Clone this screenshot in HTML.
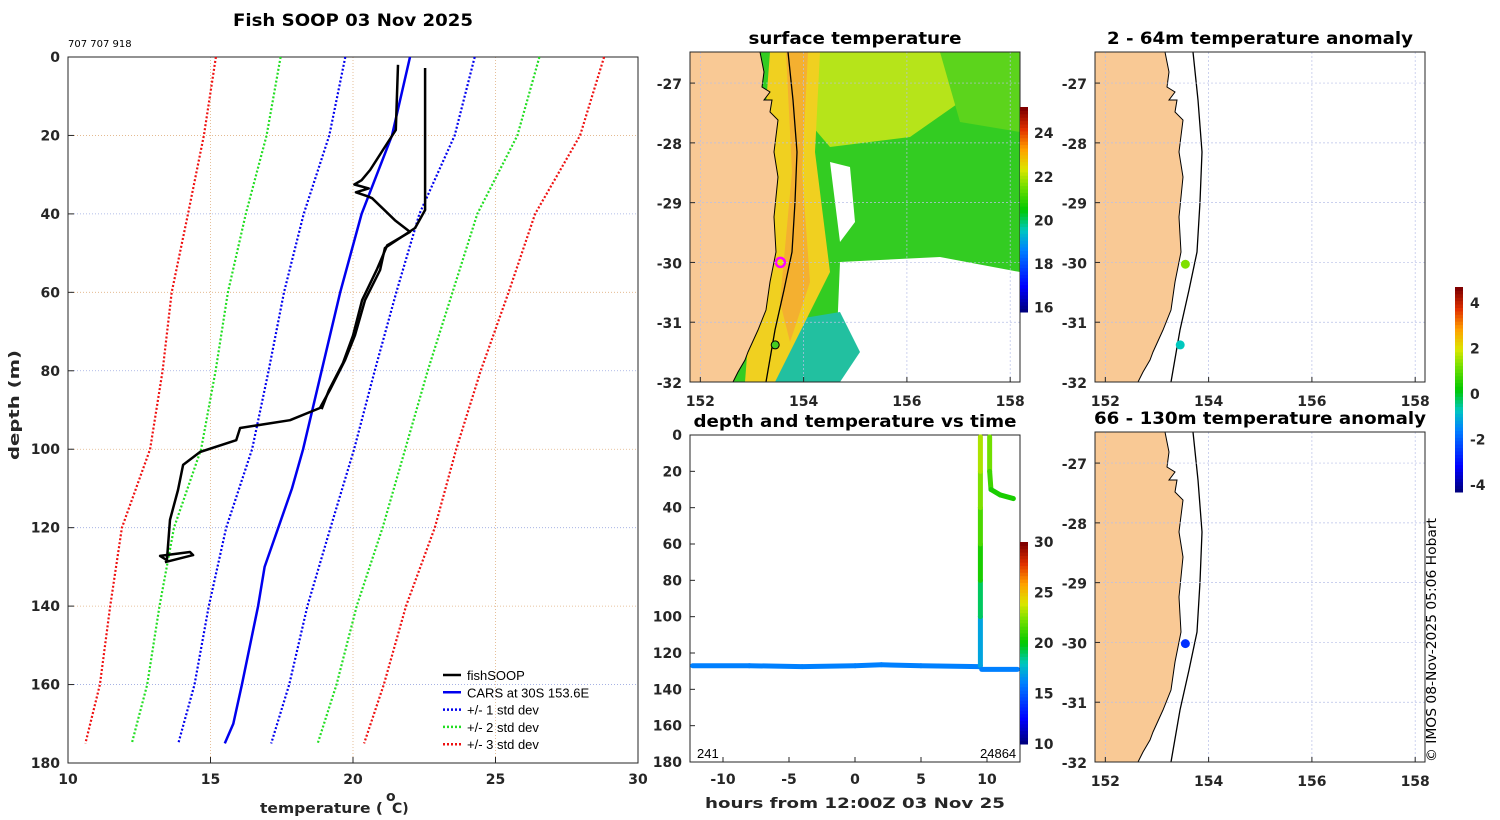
<!DOCTYPE html>
<html><head><meta charset="utf-8"><style>
body{margin:0;background:#fff;}
svg{display:block;font-family:"DejaVu Sans","Liberation Sans",sans-serif;}
.tk{font-size:14px;font-weight:bold;fill:#262626;}
.ttl{font-size:17px;font-weight:bold;fill:#000;}
.lg{font-family:"Liberation Sans",sans-serif;font-size:13px;}
</style></head><body>
<svg id="fig" width="1500" height="820" viewBox="0 0 1500 820" xmlns="http://www.w3.org/2000/svg"></svg>
<script>
// ===== Profile chart data =====
const castADepth=[2.8,39,43.6,48.7,54.3,62,70.9,77.3,84.9,89.5,92.6,94.6,97.7,100.7,104,110.4,118,128.3,127.2,126.2,127,128.8];
const castATemp=[22.53,22.53,22.18,21.12,20.95,20.42,20.07,19.72,19.19,18.84,17.79,16.04,15.9,14.63,14.04,13.86,13.58,13.47,13.23,14.28,14.39,13.4];
const castBDepth=[2,18.6,23.7,28.8,31.4,32.5,33.5,34.5,35.5,36,41.6,44.6,48,54,62,71,78,85,89.8];
const castBTemp=[21.58,21.5,21.05,20.6,20.3,20.05,20.55,20.1,20.5,20.67,21.47,22.0,21.2,20.85,20.32,20.0,19.65,19.15,18.9];
const carsDepth=[0,20,40,60,80,100,110,130,140,160,170,175];
const carsTemp=[22.0,21.37,20.3,19.55,18.9,18.25,17.86,16.9,16.67,16.1,15.8,15.5];
const stdDepth=[0,20,40,60,80,100,120,140,160,175];
const stdVal=[2.27,2.2,2.03,1.97,1.86,1.79,1.83,1.73,1.66,1.63];
const xTicks=[10,15,20,25,30];
const yTicks=[0,20,40,60,80,100,120,140,160,180];
// ===== Time panel data =====
const tHours=[-12.3,-8,-4,0,2,5,9.4,9.5,9.5,9.5,9.5,9.5,9.5,9.5,9.6,12.3];
const tDepth=[127,127,127.5,127,126.5,127,127.5,127,100,80,60,40,20,1,129,129];
const tTemp=[16,16,16,16,16,16,16,16,18,20,21,22,23,23.5,16,16];
const t2Hours=[10.2,10.2,10.3,11,12.0];
const t2Depth=[1,20,30,33,35];
const t2Temp=[22.5,22,20.5,20.5,20.5];
// ===== Map dots =====
const sstDotLon=[153.55,153.45];const sstDotLat=[-30,-31.38];
const anomLon=[153.55,153.45];const anomLat=[-30.03,-31.38];const anomVal=[1.0,-0.8];
const anom2Lon=[153.55];const anom2Lat=[-30.02];const anom2Val=[-2.5];

const NS="http://www.w3.org/2000/svg";
const svg=document.getElementById('fig');
function mk(tag,at,parent,name,inter){const e=document.createElementNS(NS,tag);for(const k in at)e.setAttribute(k,at[k]);


(parent||svg).appendChild(e);return e;}
function txt(s,x,y,cls,anchor,name,extra){const t=mk('text',Object.assign({x:x,y:y,class:cls,'text-anchor':anchor||'middle'},extra||{}),null,name);t.textContent=s;return t;}
const cmStops=[[0,[0,0,128]],[0.12,[0,0,255]],[0.3,[0,128,255]],[0.4,[0,200,190]],[0.5,[0,200,0]],[0.62,[120,224,0]],[0.7,[220,230,0]],[0.8,[255,160,0]],[0.9,[224,48,0]],[1,[128,0,0]]];
function jet(v){v=Math.max(0,Math.min(1,v));for(let i=0;i<cmStops.length-1;i++){const a=cmStops[i],b=cmStops[i+1];if(v<=b[0]){const f=(v-a[0])/(b[0]-a[0]);return 'rgb('+a[1].map((c,j)=>Math.round(c+(b[1][j]-c)*f)).join(',')+')';}}return 'rgb(128,0,0)';}
function interp(xs,ys,x){for(let i=0;i<xs.length-1;i++){if(x<=xs[i+1])return ys[i]+(ys[i+1]-ys[i])*(x-xs[i])/(xs[i+1]-xs[i]);}return ys[ys.length-1];}

// ===== Profile chart =====
const PX0=68,PX1=638,PY0=57,PY1=763;
const sx=t=>PX0+(t-10)/20*(PX1-PX0), sy=d=>PY0+d/180*(PY1-PY0);
txt('Fish SOOP 03 Nov 2025',353,26,'ttl','middle','chart-title',{textLength:240,lengthAdjust:'spacingAndGlyphs'});
txt('707 707 918',68,47,'','start','cruise-id',{'font-size':'10px'});
xTicks.slice(1,-1).forEach(t=>mk('line',{x1:sx(t),x2:sx(t),y1:PY0,y2:PY1,stroke:'#e0b080','stroke-width':0.8,'stroke-dasharray':'1,2'},null,'x-gridline'));
yTicks.slice(1,-1).forEach(d=>mk('line',{x1:PX0,x2:PX1,y1:sy(d),y2:sy(d),stroke:(d/20)%2?'#e0b080':'#9aa8e0','stroke-width':0.8,'stroke-dasharray':'1,2'},null,'y-gridline'));
mk('rect',{x:PX0,y:PY0,width:PX1-PX0,height:PY1-PY0,fill:'none',stroke:'#262626','stroke-width':1},null,'profile-axes-box');
xTicks.forEach(t=>{mk('line',{x1:sx(t),x2:sx(t),y1:PY1,y2:PY1-6,stroke:'#262626'},null,'x-tick');txt(String(t),sx(t),784,'tk','middle','x-tick-label');});
yTicks.forEach(d=>{mk('line',{x1:PX0,x2:PX0+6,y1:sy(d),y2:sy(d),stroke:'#262626'},null,'y-tick');txt(String(d),60,sy(d)+5,'tk','end','y-tick-label');});
txt('temperature (',260,813,'tk','start','x-axis-title',{'font-size':'17px',textLength:123,lengthAdjust:'spacingAndGlyphs'});
txt('o',386,801,'tk','start','x-axis-degree',{'font-size':'11px'});
txt(' C)',392,813,'tk','start','x-axis-title-unit',{'font-size':'17px'});
txt('depth (m)',19,405,'tk','middle','y-axis-title',{'font-size':'17px',transform:'rotate(-90 19 405)',textLength:110,lengthAdjust:'spacingAndGlyphs'});
function pathOf(ts,ds){return ts.map((t,i)=>(i?'L':'M')+sx(t).toFixed(1)+','+sy(ds[i]).toFixed(1)).join('');}
const stdCols={1:'#0000ee',2:'#22dd22',3:'#ee1111'};
[3,2,1].forEach(k=>[-1,1].forEach(s=>{const ts=stdDepth.map((d,i)=>interp(carsDepth,carsTemp,d)+s*k*stdVal[i]);
mk('path',{d:pathOf(ts,stdDepth),fill:'none',stroke:stdCols[k],'stroke-width':2.2,'stroke-dasharray':'2,2'},null,'std-dev-'+k+'-line');}));
mk('path',{d:pathOf(carsTemp,carsDepth),fill:'none',stroke:'#0000ee','stroke-width':2.5},null,'cars-line');
mk('path',{d:pathOf(castATemp,castADepth),fill:'none',stroke:'#000','stroke-width':2.5,'stroke-linejoin':'round'},null,'fishsoop-cast-a');
mk('path',{d:pathOf(castBTemp,castBDepth),fill:'none',stroke:'#000','stroke-width':2.5,'stroke-linejoin':'round'},null,'fishsoop-cast-b');
const leg=[['fishSOOP','#000',''],['CARS at 30S 153.6E','#0000ee',''],['+/- 1 std dev','#0000ee','2,2'],['+/- 2 std dev','#22dd22','2,2'],['+/- 3 std dev','#ee1111','2,2']];
leg.forEach((l,i)=>{const y=675+i*17.3;mk('line',{x1:443,x2:461,y1:y,y2:y,stroke:l[1],'stroke-width':2.5,'stroke-dasharray':l[2]||'none'},null,'legend-swatch');txt(l[0],467,y+5,'lg','start','legend-entry');});

// ===== Map helper =====
const LON0=151.8,LON1=158.19,LAT0=-26.48,LAT1=-32;
function mapAxes(x0,y0,x1,y1,title,name,tl){
 const mx=lon=>x0+(lon-LON0)/(LON1-LON0)*(x1-x0), my=lat=>y0+(lat-LAT0)/(LAT1-LAT0)*(y1-y0);
 txt(title,(x0+x1)/2,y0-8,'ttl','middle',name+'-title',{textLength:tl,lengthAdjust:'spacingAndGlyphs'});
 return {mx,my};
}
function gridTicks(m,x0,y0,x1,y1,name){
 [152,154,156,158].forEach(l=>{mk('line',{x1:m.mx(l),x2:m.mx(l),y1:y0,y2:y1,stroke:'#b8c0e8','stroke-width':0.7,'stroke-dasharray':'2,2'},null,name+'-lon-grid');
  txt(String(l),m.mx(l),y1+24,'tk','middle',name+'-lon-label');mk('line',{x1:m.mx(l),x2:m.mx(l),y1:y1,y2:y1-5,stroke:'#262626'},null,'lon-tick');});
 [-27,-28,-29,-30,-31,-32].forEach(l=>{mk('line',{x1:x0,x2:x1,y1:m.my(l),y2:m.my(l),stroke:'#b8c0e8','stroke-width':0.7,'stroke-dasharray':'2,2'},null,name+'-lat-grid');
  txt(String(l),x0-8,m.my(l)+6,'tk','end',name+'-lat-label');mk('line',{x1:x0,x2:x0+5,y1:m.my(l),y2:m.my(l),stroke:'#262626'},null,'lat-tick');});
}
const coast=[[70,0],[74,20],[72,35],[80,40],[74,48],[82,48],[80,60],[88,68],[84,100],[88,125],[84,165],[86,200],[80,230],[76,258],[68,278],[58,300],[55,308],[48,320],[43,330]];
const iso=[[98,0],[103,48],[107,100],[105,150],[102,200],[94,238],[85,278],[76,330]];
function land(x0,y0,name){const p='M'+x0+','+y0+coast.map(c=>'L'+(x0+c[0])+','+(y0+c[1])).join('')+'L'+x0+','+(y0+330)+'Z';
 mk('path',{d:p,fill:'#f9c995',stroke:'#000','stroke-width':1},null,name+'-land');
 mk('path',{d:'M'+iso.map(c=>(x0+c[0])+','+(y0+c[1])).join('L'),fill:'none',stroke:'#000','stroke-width':1.3},null,name+'-isobath');}

// ===== SST map =====
{const x0=690,y0=52,x1=1020,y1=382;const m=mapAxes(x0,y0,x1,y1,'surface temperature','sst',213);
 mk('rect',{x:x0,y:y0,width:330,height:330,fill:'#33cc22'},null,'sst-field');
 mk('path',{d:`M${x0+120},${y0}L${x0+250},${y0}L${x0+270},${y0+50}L${x0+220},${y0+85}L${x0+140},${y0+95}L${x0+110},${y0+60}Z`,fill:'#b6e41a'},null,'sst-warm-patch');
 mk('path',{d:`M${x0+250},${y0}L${x0+330},${y0}L${x0+330},${y0+80}L${x0+270},${y0+70}Z`,fill:'#5cd41c'},null,'sst-patch');
 mk('path',{d:`M${x0+150},${y0+210}L${x0+250},${y0+205}L${x0+330},${y0+220}L${x0+330},${y0+330}L${x0+145},${y0+330}Z`,fill:'#fff'},null,'sst-cloud');
 mk('path',{d:`M${x0+140},${y0+110}L${x0+160},${y0+115}L${x0+165},${y0+170}L${x0+150},${y0+190}Z`,fill:'#fff'},null,'sst-cloud');
 mk('path',{d:`M${x0+90},${y0+270}L${x0+150},${y0+260}L${x0+170},${y0+300}L${x0+150},${y0+330}L${x0+80},${y0+330}Z`,fill:'#22c0a0'},null,'sst-cool-patch');
 mk('path',{d:`M${x0+80},${y0}L${x0+130},${y0}L${x0+125},${y0+100}L${x0+140},${y0+220}L${x0+105},${y0+290}L${x0+85},${y0+330}L${x0+55},${y0+330}Z`,fill:'#f0d020'},null,'sst-eac-band');
 mk('path',{d:`M${x0+96},${y0}L${x0+118},${y0}L${x0+112},${y0+120}L${x0+120},${y0+230}L${x0+100},${y0+290}L${x0+90},${y0+250}L${x0+102},${y0+120}Z`,fill:'#f4b030'},null,'sst-eac-core');
 land(x0,y0,'sst');
 mk('circle',{cx:m.mx(sstDotLon[0]),cy:m.my(sstDotLat[0]),r:4.5,fill:'#e8e000',stroke:'#ff00ff','stroke-width':2.5},null,'sst-current-position');
 mk('circle',{cx:m.mx(sstDotLon[1]),cy:m.my(sstDotLat[1]),r:4,fill:'#44cc22',stroke:'#000','stroke-width':1},null,'sst-position');
 gridTicks(m,x0,y0,x1,y1,'sst');
 mk('rect',{x:x0,y:y0,width:330,height:330,fill:'none',stroke:'#262626'},null,'sst-axes-box');
 for(let i=0;i<60;i++)mk('rect',{x:1020,y:312-(i+1)*205/60,width:8,height:205/60+0.5,fill:jet(i/59)},null,'sst-colorbar-cell');
 [16,18,20,22,24].forEach(v=>txt(String(v),1034,312-(v-15.8)/9.4*205+5,'tk','start','sst-colorbar-label',{'font-size':'13px'}));
}
// ===== Anomaly maps =====
function anomMap(x0,y0,title,name,lons,lats,vals,tl){const m=mapAxes(x0,y0,x0+330,y0+330,title,name,tl);
 land(x0,y0,name);gridTicks(m,x0,y0,x0+330,y0+330,name);
 lons.forEach((l,i)=>mk('circle',{cx:m.mx(l),cy:m.my(lats[i]),r:4.5,fill:jet((vals[i]+4)/8)},null,name+'-anomaly-dot'));
 mk('rect',{x:x0,y:y0,width:330,height:330,fill:'none',stroke:'#262626'},null,name+'-axes-box');}
anomMap(1095,52,'2 - 64m temperature anomaly','anom-shallow',anomLon,anomLat,anomVal,306);
anomMap(1095,432,'66 - 130m temperature anomaly','anom-deep',anom2Lon,anom2Lat,anom2Val,332);
for(let i=0;i<60;i++)mk('rect',{x:1455,y:492-(i+1)*205/60,width:8,height:205/60+0.5,fill:jet(i/59)},null,'anomaly-colorbar-cell');
[4,2,0,-2,-4].forEach(v=>txt(String(v),1470,492-(v+4.3)/9*205+5,'tk','start','anomaly-colorbar-label',{'font-size':'13px'}));
txt('© IMOS 08-Nov-2025 05:06 Hobart',1436,640,'','middle','copyright-note',{'font-size':'13px',transform:'rotate(-90 1436 640)',textLength:244,lengthAdjust:'spacingAndGlyphs'});

// ===== Time panel =====
{const x0=690,y0=435,x1=1020,y1=762;const tx=h=>x0+(h+12.5)/25*(x1-x0), ty=d=>y0+d/180*(y1-y0);
 txt('depth and temperature vs time',855,427,'ttl','middle','time-panel-title',{textLength:323,lengthAdjust:'spacingAndGlyphs'});
 mk('rect',{x:x0,y:y0,width:330,height:327,fill:'none',stroke:'#262626'},null,'time-axes-box');
 [-10,-5,0,5,10].forEach(h=>{txt(String(h),tx(h),784,'tk','middle','time-x-tick-label');mk('line',{x1:tx(h),x2:tx(h),y1:y1,y2:y1-5,stroke:'#262626'},null,'time-x-tick');});
 yTicks.forEach(d=>{txt(String(d),682,ty(d)+5,'tk','end','time-y-tick-label');mk('line',{x1:x0,x2:x0+5,y1:ty(d),y2:ty(d),stroke:'#262626'},null,'time-y-tick');});
 txt('hours from 12:00Z 03 Nov 25',855,808,'tk','middle','time-x-axis-title',{'font-size':'17px',textLength:300,lengthAdjust:'spacingAndGlyphs'});
 function seg(hs,ds,ts){for(let i=0;i<hs.length-1;i++){if(i===13&&hs===tHours)continue;mk('line',{x1:tx(hs[i]),y1:ty(ds[i]),x2:tx(hs[i+1]),y2:ty(ds[i+1]),stroke:jet(((ts[i]+ts[i+1])/2-10)/20),'stroke-width':5,'stroke-linecap':'round'},null,'time-track-segment');}}
 seg(tHours,tDepth,tTemp);seg(t2Hours,t2Depth,t2Temp);
 txt('241',697,758,'lg','start','time-label-start');
 txt('24864',980,758,'lg','start','time-label-end');
 for(let i=0;i<60;i++)mk('rect',{x:1020,y:744-(i+1)*202/60,width:8,height:202/60+0.5,fill:jet(i/59)},null,'time-colorbar-cell');
 [10,15,20,25,30].forEach(v=>txt(String(v),1034,744-(v-10)/20*202+5,'tk','start','time-colorbar-label',{'font-size':'13px'}));
}
</script>
</body></html>
